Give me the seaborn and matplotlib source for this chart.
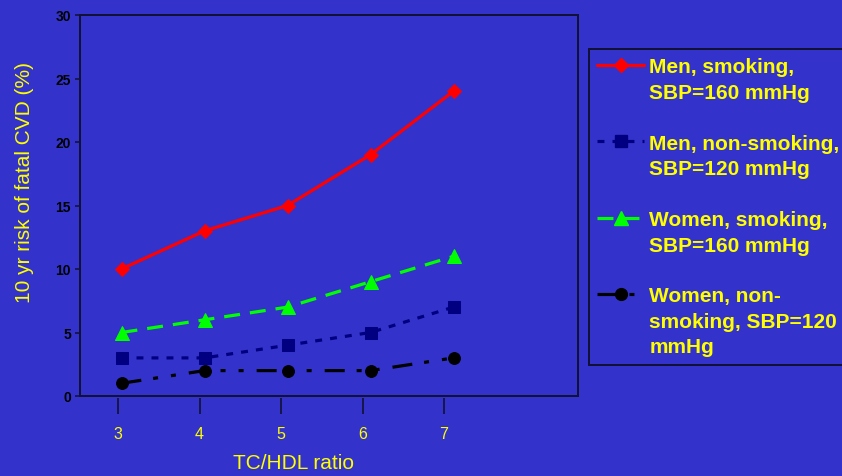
import matplotlib
matplotlib.use("Agg")
import matplotlib.pyplot as plt
import seaborn as sns
import numpy as np
from matplotlib.lines import Line2D

# ---- data ----
tc_hdl = [3, 4, 5, 6, 7]
men_smoking_160 = [10, 13, 15, 19, 24]
men_nonsmoking_120 = [3, 3, 4, 5, 7]
women_smoking_160 = [5, 6, 7, 9, 11]
women_nonsmoking_120 = [1, 2, 2, 2, 3]
y_ticks = [0, 5, 10, 15, 20, 25, 30]
x_tick_labels = ["3", "4", "5", "6", "7"]
legend_rows = [
    ["Men, smoking,", "SBP=160 mmHg"],
    ["Men, non-smoking,", "SBP=120 mmHg"],
    ["Women, smoking,", "SBP=160 mmHg"],
    ["Women, non-", "smoking, SBP=120", "mmHg"],
]

BG = "#3333CC"
YEL = "#FFFF00"
DARK = "#111133"

sns.set_theme(style="white")
plt.rcParams["font.family"] = ["Liberation Sans", "DejaVu Sans"]
plt.rcParams["lines.scale_dashes"] = False

fig = plt.figure(figsize=(8.42, 4.77), dpi=100, facecolor=BG)
ax = fig.add_axes([80 / 842, 1 - 397 / 477, 498 / 842, 381 / 477])
ax.set_facecolor(BG)

series = [
    (men_smoking_160, "#FF0000", "D", 7.5, None),
    (men_nonsmoking_120, "#000080", "s", 8.5, (5.0, 5.8)),
    (women_smoking_160, "#00FF00", "^", 10, (11.5, 7.2)),
    (women_nonsmoking_120, "#000000", "o", 8.5, (14.4, 8.6, 3.6, 9.4, 3.6, 9.4)),
]
handles = []
for vals, col, mk, ms, dash in series:
    sns.lineplot(x=tc_hdl, y=vals, ax=ax, color=col, marker=mk, markersize=ms,
                 markeredgecolor=col, markerfacecolor=col, linewidth=2.3,
                 legend=False)
    ln = ax.lines[-1]
    if dash is not None:
        ln.set_dashes(dash)
    h = Line2D([], [], color=col, marker=mk, markersize=ms, markeredgecolor=col,
               markerfacecolor=col, linewidth=2.3)
    if dash is not None:
        h.set_dashes(dash)
    handles.append(h)

ax.set_xlim(2.5, 8.5)
ax.set_ylim(0, 30)
ax.set_yticks(y_ticks)
ax.set_yticklabels([str(v) for v in y_ticks], fontweight="bold", color="black", fontsize=10)
ax.tick_params(axis="y", direction="out", length=3.6, width=1.1, color=DARK, pad=3, left=True)
ax.set_xticks([])
for s in ax.spines.values():
    s.set_visible(True)
    s.set_color(DARK)
    s.set_linewidth(1.4)

# detached category ticks
def fwd(m):
    return (np.asarray(m) - 2.958) / 0.982 + 3

def inv(s):
    return 2.958 + (np.asarray(s) - 3) * 0.982

sec = ax.secondary_xaxis(-0.005, functions=(fwd, inv))
sec.set_xticks(tc_hdl)
sec.set_xticklabels(x_tick_labels, color=YEL, fontsize=11.5)
sec.tick_params(axis="x", direction="out", length=11.5, width=1.2, color=DARK, pad=9)
sec.spines["bottom"].set_visible(False)

ax.set_ylabel("10 yr risk of fatal CVD (%)", color=YEL, fontsize=15)
ax.yaxis.set_label_coords(-0.092, 0.562)
ax.set_xlabel("TC/HDL ratio", color=YEL, fontsize=15)
ax.xaxis.set_label_coords(0.428, -0.15)

# legend: one row per text line, handle on each entry's first line
leg_handles, leg_labels = [], []
for i, lines in enumerate(legend_rows):
    for j, t in enumerate(lines):
        leg_handles.append(handles[i] if j == 0 else Line2D([], [], linestyle="none"))
        leg_labels.append(t)
    if i < len(legend_rows) - 1:
        leg_handles.append(Line2D([], [], linestyle="none"))
        leg_labels.append(" ")

leg = fig.legend(leg_handles, leg_labels, loc="upper left",
                 bbox_to_anchor=(589 / 842, 1 - 50 / 477),
                 frameon=True, fancybox=False, facecolor=BG, edgecolor=DARK,
                 prop={"weight": "bold", "size": 15}, labelcolor=YEL,
                 handlelength=2.25, handletextpad=0.25, labelspacing=0.31,
                 borderpad=0.4, borderaxespad=0, numpoints=1)
leg.get_frame().set_linewidth(1.4)
leg.get_frame().set_alpha(None)

fig.savefig("out.png", dpi=100, facecolor=BG)
